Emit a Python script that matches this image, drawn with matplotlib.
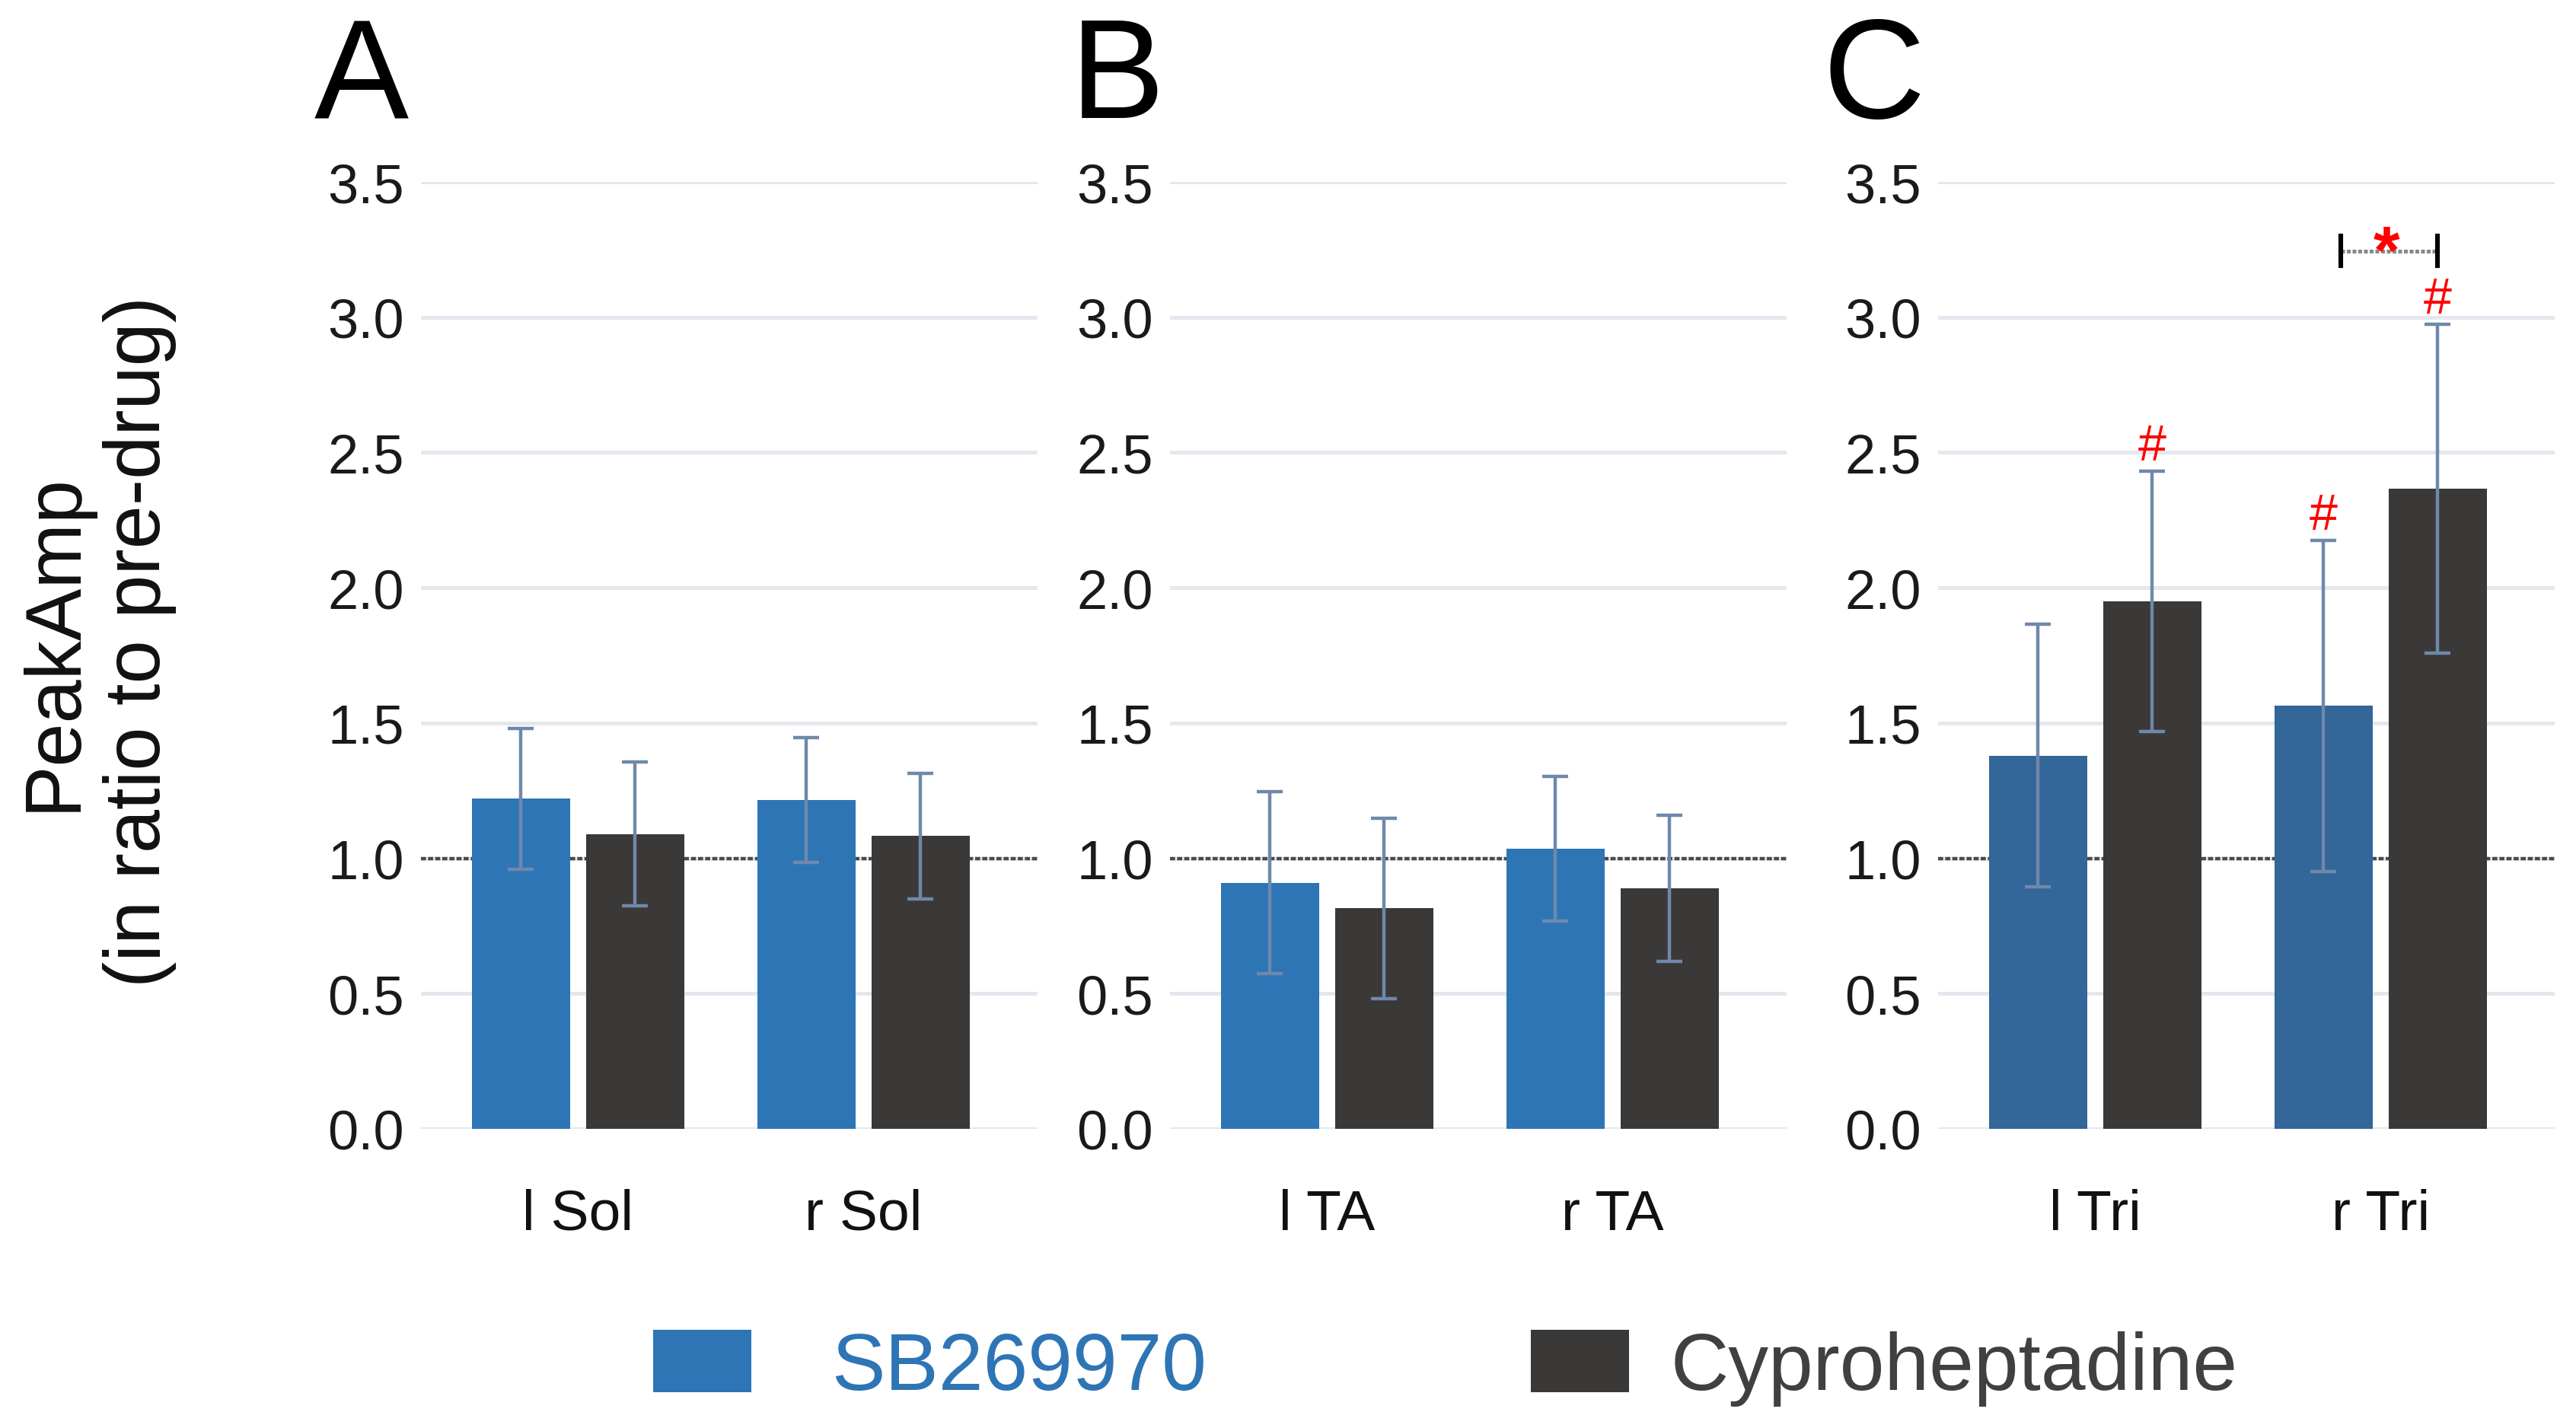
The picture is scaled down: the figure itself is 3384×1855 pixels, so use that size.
import matplotlib
matplotlib.use("Agg")
import matplotlib.pyplot as plt
import numpy as np

plt.rcParams["font.family"] = ["Liberation Sans", "DejaVu Sans"]

# Data (ratio to pre-drug, mean and error)
series_names = ["SB269970", "Cyproheptadine"]
panel_letters = ["A", "B", "C"]
categories_A = ["l Sol", "r Sol"]
categories_B = ["l TA", "r TA"]
categories_C = ["l Tri", "r Tri"]

sb_A = [1.22, 1.215]
sb_A_err = [0.26, 0.23]
cy_A = [1.09, 1.083]
cy_A_err = [0.265, 0.232]

sb_B = [0.91, 1.036]
sb_B_err = [0.335, 0.268]
cy_B = [0.815, 0.889]
cy_B_err = [0.333, 0.27]

sb_C = [1.38, 1.564]
sb_C_err = [0.485, 0.612]
cy_C = [1.95, 2.367]
cy_C_err = [0.482, 0.608]

# '#' markers in panel C: (category index, series index)
hash_marks = [(0, 1), (1, 0), (1, 1)]

yticks = [0.0, 0.5, 1.0, 1.5, 2.0, 2.5, 3.0, 3.5]

# Colours
blue = "#2e75b6"
blue_c = "#336699"
dark = "#3b3838"
err_color = "#6f88ab"
grid_color = "#e3e8ee"

panels = [
    (categories_A, sb_A, sb_A_err, cy_A, cy_A_err, blue),
    (categories_B, sb_B, sb_B_err, cy_B, cy_B_err, blue),
    (categories_C, sb_C, sb_C_err, cy_C, cy_C_err, blue_c),
]

W, H = 3384, 1856
fig = plt.figure(figsize=(W / 200, H / 200), dpi=200)

lefts = [553, 1537, 2546]
ax_w = 810
ax_bottom = (H - 1484) / H
ax_h = (1484 - 240) / H
letter_x = [413, 1406, 2394]

width = 0.345
offset = 0.2
bars_for_legend = None

for i, (cats, sb, sb_err, cy, cy_err, bcol) in enumerate(panels):
    ax = fig.add_axes([lefts[i] / W, ax_bottom, ax_w / W, ax_h])
    x = np.arange(len(cats))
    for y in yticks:
        ax.axhline(y, color=grid_color, lw=1.8, zorder=0)
    ax.axhline(1.0, color="#4a4a4a", lw=1.6, ls=(0, (1.5, 0.6)), zorder=1)

    ekw = dict(ecolor=err_color, elinewidth=1.6, capsize=6, capthick=1.6)
    b1 = ax.bar(x - offset, sb, width, color=bcol, zorder=2,
                yerr=sb_err, error_kw=ekw)
    b2 = ax.bar(x + offset, cy, width, color=dark, zorder=2,
                yerr=cy_err, error_kw=ekw)
    if i == 0:
        bars_for_legend = [b1, b2]

    ax.set_xlim(-0.55, 1.61)
    ax.set_ylim(0, 3.5)
    ax.set_yticks(yticks)
    ax.set_yticklabels([f"{v:.1f}" for v in yticks], fontsize=26, color="#1a1a1a")
    ax.set_xticks(x)
    ax.set_xticklabels(cats, fontsize=27, color="#111111")
    ax.tick_params(axis="y", length=0, pad=8)
    ax.tick_params(axis="x", length=0, pad=28)
    for s in ax.spines.values():
        s.set_visible(False)

    fig.text(letter_x[i] / W, 1 - 155 / H, panel_letters[i], fontsize=67,
             va="baseline", ha="left", color="black")

    if i == 2:
        means = [sb, cy]
        errs = [sb_err, cy_err]
        for (gi, si) in hash_marks:
            xpos = x[gi] + (offset if si == 1 else -offset)
            ax.text(xpos, means[si][gi] + errs[si][gi] + 0.04, "#",
                    color="red", fontsize=24, ha="center", va="baseline")
        # significance bracket between r Tri bars
        x0, x1, yb = 0.86, 1.2, 3.243
        ax.plot([x0, x1], [yb, yb], color="#888888", lw=1.8,
                ls=(0, (1, 0.5)), zorder=3)
        ax.plot([x0, x0], [3.19, 3.30], color="black", lw=2.2, zorder=3)
        ax.plot([x1, x1], [3.19, 3.30], color="black", lw=2.2, zorder=3)
        ax.text(1.02, 3.165, "*", color="red", fontsize=32, fontweight="bold",
                ha="center", va="baseline")

fig.text(128 / W, 1 - 843 / H, "PeakAmp\n(in ratio to pre-drug)", rotation=90,
         fontsize=37, ha="center", va="center", multialignment="center",
         color="#111111")

# two single-entry legends so each text gap matches the reference
leg_x = [858, 2011]
leg_pad = [1.0, 0.52]
leg_col = [blue, "#404040"]
for j in range(2):
    leg = fig.legend([bars_for_legend[j]], [series_names[j]], loc="center left",
                     bbox_to_anchor=(leg_x[j] / W, 1 - 1798 / H), frameon=False,
                     fontsize=38, handlelength=1.22, handleheight=0.82,
                     handletextpad=leg_pad[j], borderpad=0, borderaxespad=0)
    leg.get_texts()[0].set_color(leg_col[j])

fig.savefig("out.png", dpi=200, facecolor="white")
